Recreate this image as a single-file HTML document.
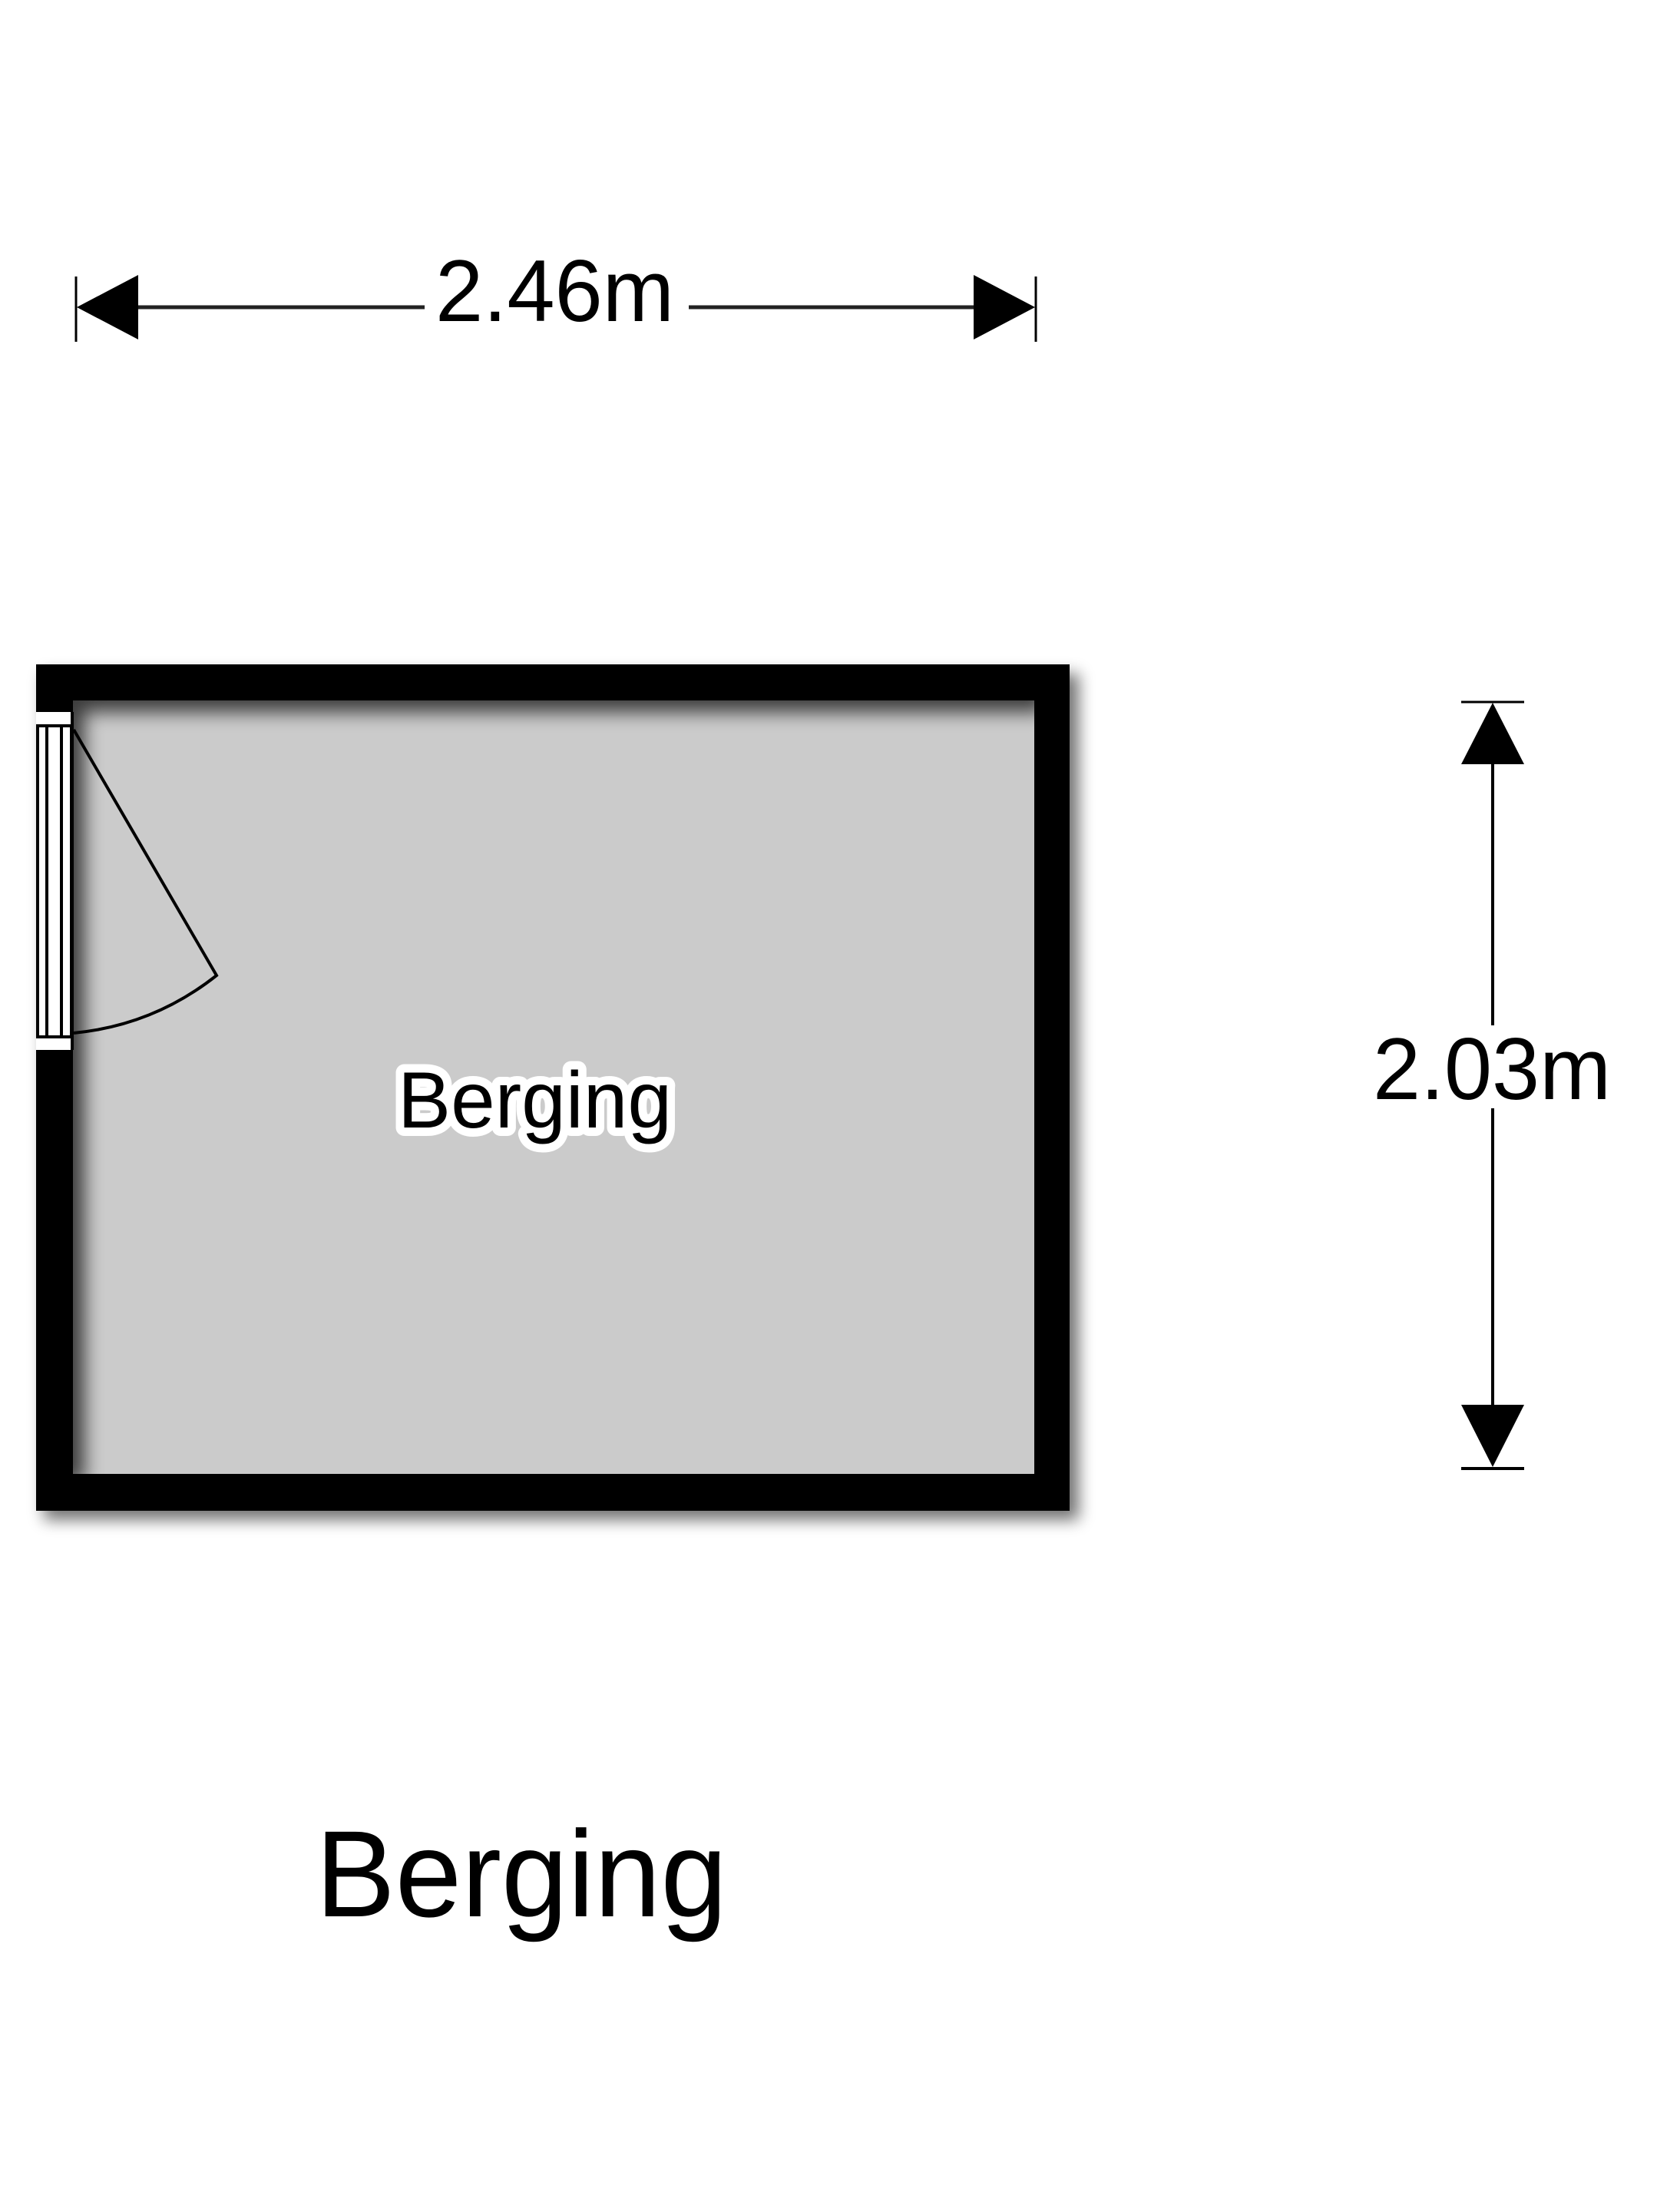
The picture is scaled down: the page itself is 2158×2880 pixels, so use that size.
<!DOCTYPE html>
<html><head><meta charset="utf-8"><style>
html,body{margin:0;padding:0;background:#fff}
svg{display:block}
text{font-family:"Liberation Sans",Arial,sans-serif;fill:#000}
</style></head><body>
<svg width="2158" height="2880" viewBox="0 0 2158 2880" xmlns="http://www.w3.org/2000/svg">
<defs>
<filter id="sh" x="-10%" y="-10%" width="130%" height="130%">
<feGaussianBlur stdDeviation="10"/>
</filter>
<filter id="inner" x="0" y="0" width="100%" height="100%">
<feGaussianBlur stdDeviation="12"/>
</filter>
<clipPath id="room"><rect x="95" y="912" width="1252" height="1007"/></clipPath>
</defs>
<rect width="2158" height="2880" fill="#fff"/>
<rect x="57" y="877" width="1348" height="1102" fill="#000" opacity="0.55" filter="url(#sh)"/>
<rect x="47" y="865" width="1346" height="1102" fill="#000"/>
<rect x="95" y="912" width="1252" height="1007" fill="#cbcbcb"/>
<g clip-path="url(#room)">
<path d="M60 880 H1360 V927 H110 V1930 H60 Z" fill="#000" opacity="0.7" filter="url(#inner)"/>
</g>
<rect x="47" y="927" width="48" height="440" fill="#fff"/>
<rect x="49" y="945" width="44" height="405" fill="none" stroke="#000" stroke-width="4"/>
<line x1="61" y1="945" x2="61" y2="1350" stroke="#000" stroke-width="4"/>
<line x1="80" y1="945" x2="80" y2="1350" stroke="#000" stroke-width="4"/>
<line x1="94" y1="927" x2="94" y2="1367" stroke="#000" stroke-width="4"/>
<path d="M96 950 L282 1270 Q200 1335 96 1345" fill="none" stroke="#000" stroke-width="4"/>
<text x="518" y="1468" font-size="104" textLength="357" lengthAdjust="spacingAndGlyphs" stroke="#fff" stroke-width="22" stroke-linejoin="round" fill="#fff">Berging</text>
<text x="518" y="1468" font-size="104" textLength="357" lengthAdjust="spacingAndGlyphs">Berging</text>
<line x1="99" y1="360" x2="99" y2="445" stroke="#000" stroke-width="3"/>
<line x1="1349" y1="360" x2="1349" y2="445" stroke="#000" stroke-width="3"/>
<polygon points="100,400 180,358 180,442" fill="#000"/>
<polygon points="1348,400 1268,358 1268,442" fill="#000"/>
<line x1="180" y1="400" x2="553" y2="400" stroke="#222" stroke-width="5"/>
<line x1="897" y1="400" x2="1268" y2="400" stroke="#222" stroke-width="5"/>
<text x="567" y="418" font-size="114" textLength="311" lengthAdjust="spacingAndGlyphs">2.46m</text>
<line x1="1903" y1="914" x2="1985" y2="914" stroke="#000" stroke-width="3"/>
<line x1="1903" y1="1912" x2="1985" y2="1912" stroke="#000" stroke-width="4"/>
<polygon points="1944,915 1903,995 1985,995" fill="#000"/>
<polygon points="1944,1910 1903,1829 1985,1829" fill="#000"/>
<line x1="1944" y1="995" x2="1944" y2="1335" stroke="#000" stroke-width="4"/>
<line x1="1944" y1="1443" x2="1944" y2="1829" stroke="#000" stroke-width="4"/>
<text x="1788" y="1431" font-size="114" textLength="310" lengthAdjust="spacingAndGlyphs">2.03m</text>
<text x="411" y="2495" font-size="160" textLength="536" lengthAdjust="spacingAndGlyphs">Berging</text>
</svg>
</body></html>
